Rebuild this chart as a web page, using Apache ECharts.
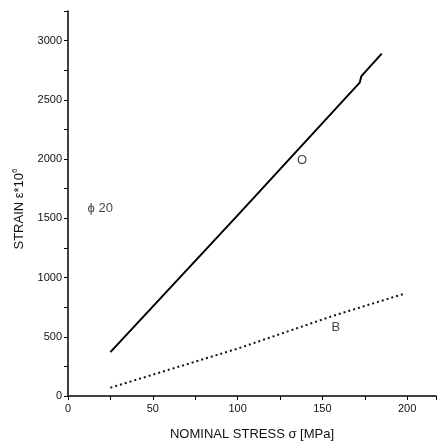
<!DOCTYPE html>
<html>
<head>
<meta charset="utf-8">
<script src="https://cdn.jsdelivr.net/npm/echarts@6/dist/echarts.min.js"></script>
<style>html,body{margin:0;padding:0;background:#fff}#chart{width:439px;height:446px}</style>
</head>
<body>
<div id="chart"></div>
<script>
var stressO = [25, 100, 172, 173, 185];
var strainO = [370, 1525, 2645, 2700, 2890];
var stressB = [25, 100, 157, 198];
var strainB = [70, 400, 680, 862];
var labels = [
    {text: 'O', x: 138, y: 1985},
    {text: 'B', x: 158, y: 575},
    {text: 'ϕ 20', x: 19, y: 1580}
];

function pairs(xs, ys) {
    return xs.map(function (x, i) { return [x, ys[i]]; });
}

var chart = echarts.init(document.getElementById('chart'));
var font = 'Liberation Sans, Arial, sans-serif';
var option = {
    animation: false,
    grid: {left: 68, right: 1, top: 11, bottom: 50},
    // y axis title drawn as rotated text so it can sit where the original does
    graphic: [{
        type: 'text', x: 19, y: 209, rotation: Math.PI / 2,
        style: {
            text: '{a|STRAIN ε*10}{s|6}', align: 'center', verticalAlign: 'middle',
            rich: {
                a: {fontFamily: font, fontSize: 13, fill: '#111'},
                s: {fontFamily: font, fontSize: 8, fill: '#111', padding: [0, 0, 9, 0]}
            }
        }
    }],
    xAxis: {
        type: 'value', min: 0, max: 217, interval: 50,
        name: 'NOMINAL STRESS σ [MPa]', nameLocation: 'middle', nameGap: 32,
        nameTextStyle: {fontFamily: font, fontSize: 13, color: '#111'},
        axisLine: {onZero: false, lineStyle: {color: '#000', width: 1.5}},
        axisTick: {length: 4, lineStyle: {color: '#000'}},
        minorTick: {show: true, splitNumber: 2, length: 4, lineStyle: {color: '#000'}},
        splitLine: {show: false},
        axisLabel: {fontFamily: font, fontSize: 11, color: '#111', margin: 7,
            formatter: function (v) { return v > 210 ? '' : v; }}
    },
    yAxis: {
        type: 'value', min: 0, max: 3250, interval: 500,
        axisLine: {show: true, onZero: false, lineStyle: {color: '#000', width: 1.5}},
        axisTick: {length: 4, lineStyle: {color: '#000'}},
        minorTick: {show: true, splitNumber: 2, length: 4, lineStyle: {color: '#000'}},
        splitLine: {show: false},
        axisLabel: {fontFamily: font, fontSize: 11, color: '#111', margin: 6,
            formatter: function (v) { return v > 3100 ? '' : v; }}
    },
    series: [
        {
            type: 'line', data: pairs(stressO, strainO), symbol: 'none',
            lineStyle: {color: '#000', width: 2}
        },
        {
            type: 'line', data: pairs(stressB, strainB), symbol: 'none',
            lineStyle: {color: '#111', width: 2, type: [2, 3]}
        },
        {
            type: 'scatter', symbolSize: 0,
            data: labels.map(function (l) { return {value: [l.x, l.y], name: l.text}; }),
            label: {show: true, position: 'inside', formatter: '{b}',
                fontFamily: font, fontSize: 13, color: '#111'}
        }
    ]
};
chart.setOption(option);
</script>
</body>
</html>
